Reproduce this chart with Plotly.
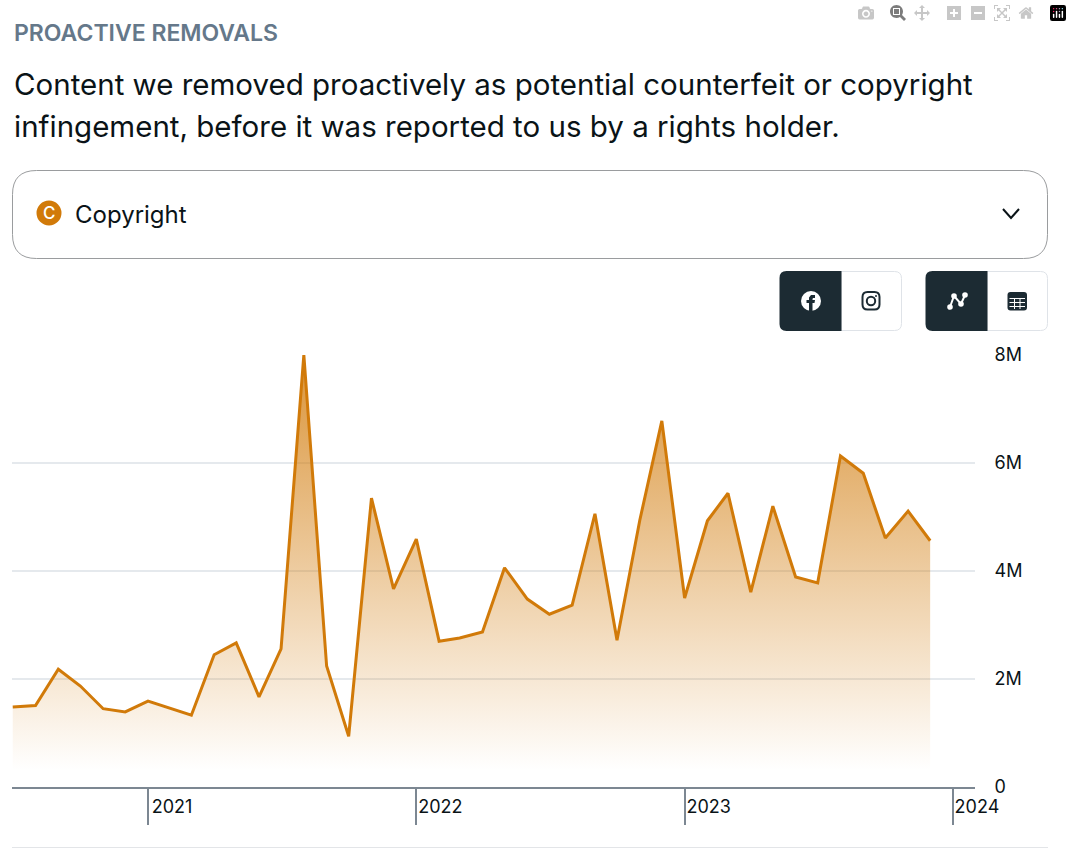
import plotly.graph_objects as go

W = 1072
H = 865
FONT = "Inter"
ORANGE = "#d17a09"
DARK = "#1c2b33"
TEXT = "#0a1317"

months = [
    "2020-07-01", "2020-08-01", "2020-09-01", "2020-10-01", "2020-11-01", "2020-12-01",
    "2021-01-01", "2021-02-01", "2021-03-01", "2021-04-01", "2021-05-01", "2021-06-01",
    "2021-07-01", "2021-08-01", "2021-09-01", "2021-10-01", "2021-11-01", "2021-12-01",
    "2022-01-01", "2022-02-01", "2022-03-01", "2022-04-01", "2022-05-01", "2022-06-01",
    "2022-07-01", "2022-08-01", "2022-09-01", "2022-10-01", "2022-11-01", "2022-12-01",
    "2023-01-01", "2023-02-01", "2023-03-01", "2023-04-01", "2023-05-01", "2023-06-01",
    "2023-07-01", "2023-08-01", "2023-09-01", "2023-10-01", "2023-11-01", "2023-12-01",
]
removals = [
    1480000, 1510000, 2180000, 1870000, 1450000, 1390000,
    1590000, 1460000, 1330000, 2450000, 2670000, 1670000,
    2560000, 8000000, 2240000, 940000, 5350000, 3670000,
    4590000, 2700000, 2760000, 2870000, 4060000, 3480000,
    3200000, 3370000, 5060000, 2720000, 4940000, 6780000,
    3500000, 4930000, 5440000, 3610000, 5200000, 3890000,
    3780000, 6130000, 5810000, 4610000, 5110000, 4560000,
]
year_ticks = ["2021-01-01", "2022-01-01", "2023-01-01", "2024-01-01"]
year_labels = ["2021", "2022", "2023", "2024"]
y_ticks = [0, 2000000, 4000000, 6000000, 8000000]
y_labels = ["0", "2M", "4M", "6M", "8M"]


# helpers: page pixels to paper coordinates (margins are zero)
def px(x):
    return x / W


def py(y):
    return 1 - y / H


def round_rect(x0, y0, x1, y1, tl, tr, br, bl):
    p = f"M {px(x0 + tl)} {py(y0)} L {px(x1 - tr)} {py(y0)} "
    p += f"Q {px(x1)} {py(y0)} {px(x1)} {py(y0 + tr)} L {px(x1)} {py(y1 - br)} "
    p += f"Q {px(x1)} {py(y1)} {px(x1 - br)} {py(y1)} L {px(x0 + bl)} {py(y1)} "
    p += f"Q {px(x0)} {py(y1)} {px(x0)} {py(y1 - bl)} L {px(x0)} {py(y0 + tl)} "
    p += f"Q {px(x0)} {py(y0)} {px(x0 + tl)} {py(y0)} Z"
    return p


def polyline(points):
    return "M " + " L ".join(f"{px(x)} {py(y)}" for x, y in points)


def path_shape(path, fill="rgba(0,0,0,0)", color="rgba(0,0,0,0)", width=0):
    return dict(type="path", xref="paper", yref="paper", path=path, fillcolor=fill,
                line=dict(color=color, width=width), layer="above")


def circle(cx, cy, r, fill="rgba(0,0,0,0)", color="rgba(0,0,0,0)", width=0):
    return dict(type="circle", xref="paper", yref="paper",
                x0=px(cx - r), x1=px(cx + r), y0=py(cy + r), y1=py(cy - r),
                fillcolor=fill, line=dict(color=color, width=width), layer="above")


fig = go.Figure()
fig.add_trace(go.Scatter(
    x=months, y=removals, mode="lines", cliponaxis=False,
    line=dict(color=ORANGE, width=3, shape="linear"),
    fill="tozeroy",
    fillgradient=dict(
        type="vertical", start=300000, stop=8000000,
        colorscale=[[0, "rgba(209,122,9,0)"], [1, "rgba(209,122,9,0.8)"]],
    ),
    hoverinfo="skip",
))

shapes = [
    # dropdown
    path_shape(round_rect(12.5, 170.5, 1047.5, 258.5, 24, 24, 24, 24), color="#9a9c9e", width=1),
    circle(49, 213, 12.5, fill=ORANGE),
    path_shape(polyline([(1003, 209), (1011, 218), (1019, 209)]), color=TEXT, width=2),
    # platform toggle
    path_shape(round_rect(841, 271.5, 901.5, 330.5, 0, 7, 7, 0), fill="white", color="#dfe3e8", width=1),
    path_shape(round_rect(779.5, 271, 841.5, 331, 7, 0, 0, 7), fill=DARK),
    # facebook icon
    circle(811, 301, 10, fill="white"),
    path_shape(polyline([(809, 311), (809, 303), (806.5, 303), (806.5, 300), (809, 300), (809, 297.5),
                         (811, 295), (815, 295), (815, 298), (813, 298), (812.5, 299), (812.5, 300),
                         (815, 300), (814.5, 303), (812.5, 303), (812.5, 311)]) + " Z", fill=DARK),
    # instagram icon
    path_shape(round_rect(862.5, 292, 879.5, 309.5, 5, 5, 5, 5), color=DARK, width=2),
    circle(871, 301, 4.2, color=DARK, width=2),
    circle(876, 296, 1, fill=DARK),
    # view toggle
    path_shape(round_rect(987, 271.5, 1047.5, 330.5, 0, 7, 7, 0), fill="white", color="#dfe3e8", width=1),
    path_shape(round_rect(925.5, 271, 987.5, 331, 7, 0, 0, 7), fill=DARK),
    # line chart icon
    path_shape(polyline([(950, 307), (954, 296), (961, 304), (965, 295)]), color="white", width=2),
    circle(950, 307, 2.8, fill="white"),
    circle(954, 296, 2.8, fill="white"),
    circle(961, 304, 2.8, fill="white"),
    circle(965, 295, 2.8, fill="white"),
    # table icon
    path_shape(round_rect(1007.5, 292, 1027, 310.5, 3, 3, 3, 3), fill=DARK),
    path_shape(polyline([(1009.5, 298.5), (1025, 298.5)]), color="white", width=1),
    path_shape(polyline([(1009.5, 302.5), (1025, 302.5)]), color="white", width=1),
    path_shape(polyline([(1009.5, 306.5), (1025, 306.5)]), color="white", width=1),
    path_shape(polyline([(1014.5, 298), (1014.5, 309)]), color="white", width=1),
    path_shape(polyline([(1020, 298), (1020, 309)]), color="white", width=1),
    # bottom divider
    path_shape(polyline([(12, 847.5), (1048, 847.5)]), color="#e3e5e8", width=1),
]


def page_text(x, y, text, size, color=TEXT, weight=400):
    return dict(x=px(x), y=py(y), xref="paper", yref="paper", text=text, showarrow=False,
                xanchor="left", yanchor="middle", align="left",
                font=dict(family=FONT, size=size, color=color, weight=weight))


annotations = [
    page_text(12, 33, "PROACTIVE REMOVALS", 23, color="#65788a", weight=600),
    page_text(12, 84, "Content we removed proactively as potential counterfeit or copyright", 29.5),
    page_text(12, 126, "infingement, before it was reported to us by a rights holder.", 29.5),
    page_text(73, 214, "Copyright", 24),
    dict(x=px(49), y=py(213), xref="paper", yref="paper", text="C", showarrow=False,
         xanchor="center", yanchor="middle", font=dict(family=FONT, size=17, color="white", weight=500)),
]

fig.update_layout(
    width=W, height=H,
    margin=dict(l=0, r=0, t=0, b=0, autoexpand=False),
    paper_bgcolor="white", plot_bgcolor="white",
    showlegend=False,
    shapes=shapes,
    annotations=annotations,
    font=dict(family=FONT, size=18, color=TEXT),
)
fig.update_xaxes(
    domain=[px(12), px(975)],
    type="date", range=["2020-06-30", "2024-01-31"],
    tickvals=year_ticks, ticktext=year_labels,
    ticks="outside", ticklen=36, tickwidth=1.5, tickcolor="#7c8792",
    ticklabelshift=24, ticklabelstandoff=-34,
    showline=True, linecolor="#7c8792", linewidth=2,
    showgrid=False, zeroline=False, tickfont=dict(size=18),
)
fig.update_yaxes(
    domain=[py(787), py(355)],
    side="right", range=[0, 8000000],
    tickvals=y_ticks, ticktext=y_labels,
    ticks="outside", ticklen=15, tickcolor="rgba(0,0,0,0)",
    showgrid=True, gridcolor="#e5e9ed", gridwidth=2,
    showline=False, zeroline=False, tickfont=dict(size=18),
)

fig.write_html("out.html", post_script="document.body.style.margin='0';document.body.style.overflow='hidden';")
